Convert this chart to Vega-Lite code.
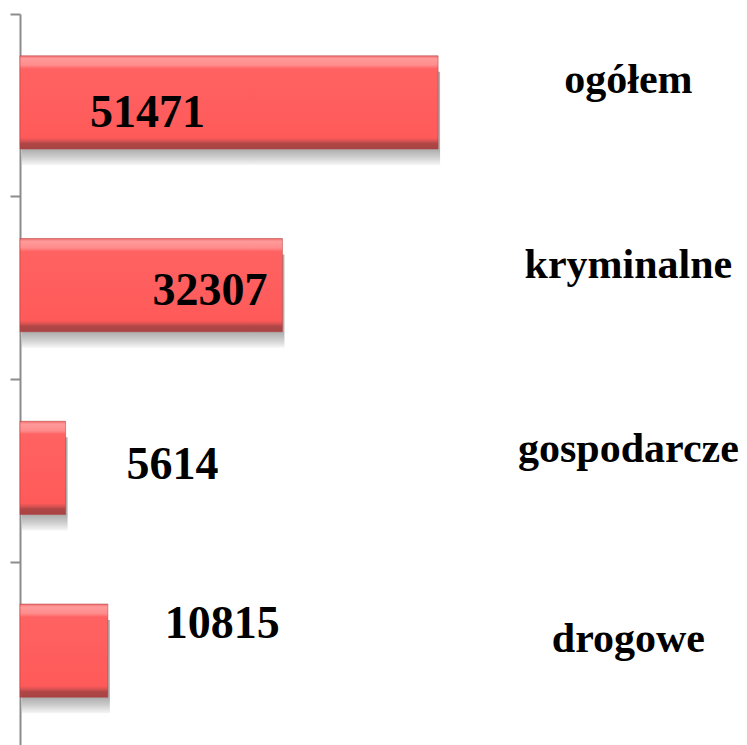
{
  "$schema": "https://vega.github.io/schema/vega-lite/v6.json",
  "width": 727,
  "height": 731,
  "autosize": {"type": "none"},
  "padding": {"left": 20, "top": 14, "right": 0, "bottom": 0},
  "background": "white",
  "config": {"view": {"stroke": null}},
  "data": {"values": [
    {"kategoria": "ogółem", "wartosc": 51471},
    {"kategoria": "kryminalne", "wartosc": 32307},
    {"kategoria": "gospodarcze", "wartosc": 5614},
    {"kategoria": "drogowe", "wartosc": 10815}
  ]},
  "encoding": {
    "y": {
      "field": "kategoria", "type": "nominal",
      "sort": ["ogółem", "kryminalne", "gospodarcze", "drogowe"],
      "scale": {"paddingInner": 0, "paddingOuter": 0},
      "axis": {
        "title": null, "labels": false, "bandPosition": 0,
        "domainColor": "#8c8c8c", "domainWidth": 2,
        "tickColor": "#8c8c8c", "tickWidth": 2, "tickSize": 10
      }
    }
  },
  "layer": [
    {
      "mark": {
        "type": "bar", "height": {"band": 0.51}, "yOffset": 13, "xOffset": 2,
        "color": {"gradient": "linear", "x1": 0, "y1": 0, "x2": 0, "y2": 1,
          "stops": [{"offset": 0, "color": "#b0b0b0"}, {"offset": 0.84, "color": "#b0b0b0"}, {"offset": 0.92, "color": "#d0d0d0"}, {"offset": 1, "color": "#f6f6f6"}]}
      },
      "encoding": {
        "x": {"field": "wartosc", "type": "quantitative", "scale": {"domain": [0, 89500], "nice": false}, "axis": null}
      }
    },
    {
      "mark": {
        "type": "bar", "height": {"band": 0.51}, "yOffset": -3,
        "color": {"gradient": "linear", "x1": 0, "y1": 0, "x2": 0, "y2": 1,
          "stops": [
            {"offset": 0, "color": "#f06a6a"},
            {"offset": 0.03, "color": "#ff9a9a"},
            {"offset": 0.1, "color": "#ff8c8c"},
            {"offset": 0.14, "color": "#ff6262"},
            {"offset": 0.88, "color": "#ff5a5a"},
            {"offset": 0.92, "color": "#d05050"},
            {"offset": 0.94, "color": "#b04646"},
            {"offset": 1, "color": "#a84444"}
          ]},
        "stroke": "#b03a3a", "strokeWidth": 0.5
      },
      "encoding": {
        "x": {"field": "wartosc", "type": "quantitative"}
      }
    },
    {
      "transform": [{"filter": "datum.kategoria === 'ogółem'"}],
      "mark": {"type": "text", "font": "Liberation Serif", "fontWeight": "bold", "fontSize": 46, "color": "black", "align": "right", "baseline": "alphabetic", "dx": -233, "dy": 22},
      "encoding": {"x": {"field": "wartosc", "type": "quantitative"}, "text": {"field": "wartosc", "type": "quantitative", "format": "d"}}
    },
    {
      "transform": [{"filter": "datum.kategoria === 'kryminalne'"}],
      "mark": {"type": "text", "font": "Liberation Serif", "fontWeight": "bold", "fontSize": 46, "color": "black", "align": "right", "baseline": "alphabetic", "dx": -15, "dy": 17},
      "encoding": {"x": {"field": "wartosc", "type": "quantitative"}, "text": {"field": "wartosc", "type": "quantitative", "format": "d"}}
    },
    {
      "transform": [{"filter": "datum.kategoria === 'gospodarcze'"}],
      "mark": {"type": "text", "font": "Liberation Serif", "fontWeight": "bold", "fontSize": 46, "color": "black", "align": "left", "baseline": "alphabetic", "dx": 61, "dy": 8},
      "encoding": {"x": {"field": "wartosc", "type": "quantitative"}, "text": {"field": "wartosc", "type": "quantitative", "format": "d"}}
    },
    {
      "transform": [{"filter": "datum.kategoria === 'drogowe'"}],
      "mark": {"type": "text", "font": "Liberation Serif", "fontWeight": "bold", "fontSize": 46, "color": "black", "align": "left", "baseline": "alphabetic", "dx": 57, "dy": -16},
      "encoding": {"x": {"field": "wartosc", "type": "quantitative"}, "text": {"field": "wartosc", "type": "quantitative", "format": "d"}}
    },
    {
      "transform": [{"filter": "datum.kategoria === 'ogółem'"}],
      "mark": {"type": "text", "font": "Liberation Serif", "fontWeight": "bold", "fontSize": 42, "color": "black", "align": "center", "baseline": "alphabetic", "dy": -12},
      "encoding": {"x": {"datum": 74900, "type": "quantitative"}, "text": {"field": "kategoria"}}
    },
    {
      "transform": [{"filter": "datum.kategoria === 'kryminalne'"}],
      "mark": {"type": "text", "font": "Liberation Serif", "fontWeight": "bold", "fontSize": 42, "color": "black", "align": "center", "baseline": "alphabetic", "dy": -10},
      "encoding": {"x": {"datum": 74900, "type": "quantitative"}, "text": {"field": "kategoria"}}
    },
    {
      "transform": [{"filter": "datum.kategoria === 'gospodarcze'"}],
      "mark": {"type": "text", "font": "Liberation Serif", "fontWeight": "bold", "fontSize": 42, "color": "black", "align": "center", "baseline": "alphabetic", "dy": -9},
      "encoding": {"x": {"datum": 74900, "type": "quantitative"}, "text": {"field": "kategoria"}}
    },
    {
      "transform": [{"filter": "datum.kategoria === 'drogowe'"}],
      "mark": {"type": "text", "font": "Liberation Serif", "fontWeight": "bold", "fontSize": 42, "color": "black", "align": "center", "baseline": "alphabetic", "dy": -2},
      "encoding": {"x": {"datum": 74900, "type": "quantitative"}, "text": {"field": "kategoria"}}
    }
  ]
}
